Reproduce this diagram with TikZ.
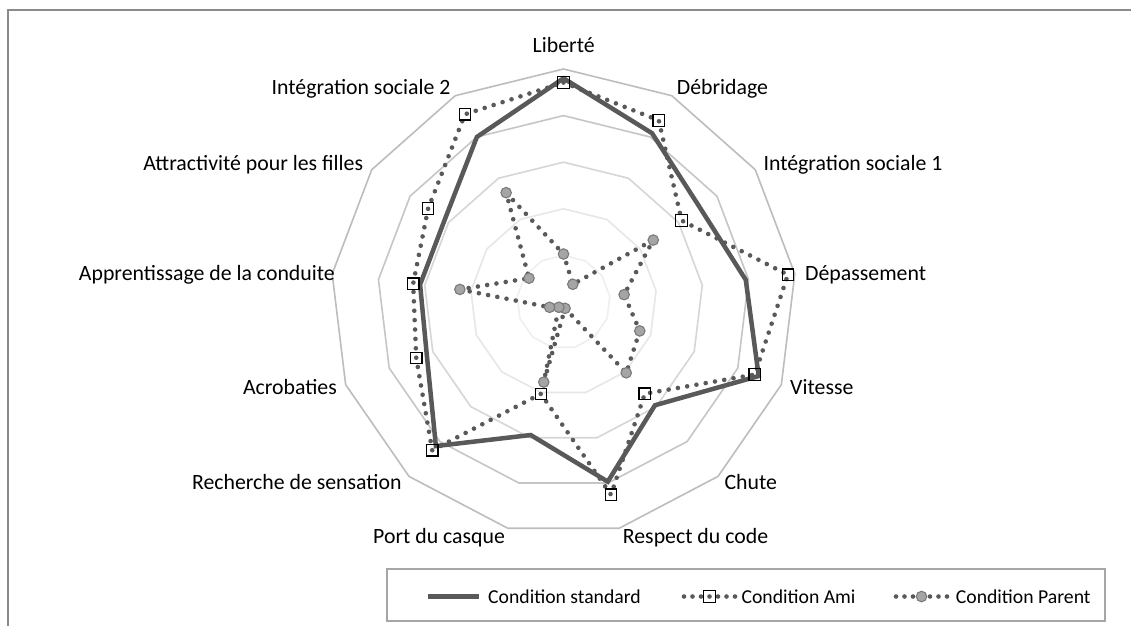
\documentclass[tikz,border=0pt]{standalone}
\usepackage{fontspec}
\setmainfont{Carlito}
\definecolor{seriesgray}{HTML}{595959}
\definecolor{markfill}{HTML}{A5A5A5}
\definecolor{markline}{HTML}{7A7A7A}
\definecolor{framegray}{HTML}{8A8A8A}
\definecolor{legendgray}{HTML}{A6A6A6}
\definecolor{ringA}{HTML}{BDBDBD}
\definecolor{ringB}{HTML}{C6C6C6}
\definecolor{ringC}{HTML}{D6D6D6}
\definecolor{ringD}{HTML}{E6E6EC}
\definecolor{ringE}{HTML}{EEEEF3}
\tikzset{
  axislabel/.style={inner sep=0pt, font=\fontsize{21.8}{24}\selectfont, text=black},
  legendtext/.style={inner sep=0pt, font=\fontsize{19.7}{22}\selectfont, text=black, anchor=base west},
  stdline/.style={draw=seriesgray, line width=4.5pt, line join=miter},
  dotline/.style={draw=seriesgray, line width=4.6pt, line cap=round, dash pattern=on 0pt off 9.4pt},
  amimark/.style={draw=black, line width=1.2pt, rectangle, minimum size=11.5pt, inner sep=0pt},
  parentmark/.style={draw=markline, fill=markfill, line width=1.1pt, circle, minimum size=10.5pt, inner sep=0pt},
  gridring/.style={line width=1.6pt},
  legendbox/.style={draw=legendgray, line width=1.3pt, rectangle, inner sep=0pt}
}
\begin{document}
\begin{tikzpicture}[x=1pt,y=-1pt]
\useasboundingbox (0,0) rectangle (1131,625);
\fill[white] (0,0) rectangle (1131,625);

% chart area frame (only top and left edges fall inside the page)
\draw[framegray, line width=2pt] (8,640) -- (8,10) -- (1145,10);

% radar chart, centred on the hub, y pointing up, 46.6pt per scale unit
\begin{scope}[shift={(563.5,302)}, y=1pt]
  \def\unit{46.6}
  % concentric 13-sided grid rings
  \foreach \i/\c in {1/ringE,2/ringD,3/ringC,4/ringB,5/ringA}{
    \draw[gridring, draw=\c] (90:\i*\unit)
      \foreach \k in {1,...,12}{ -- ({90-\k*360/13}:\i*\unit) } -- cycle;
  }
  % series values, from Liberte clockwise
  \foreach \v [count=\k from 0] in {4.80,4.09,3.56,3.94,4.48,2.96,3.97,2.94,4.13,3.14,3.10,3.10,4.00}
    \coordinate (s\k) at ({90-\k*360/13}:\v*\unit);
  \foreach \v [count=\k from 0] in {4.71,4.40,3.08,4.85,4.39,2.63,4.26,2.03,4.25,3.38,3.25,3.53,4.55}
    \coordinate (a\k) at ({90-\k*360/13}:\v*\unit);
  \foreach \v [count=\k from 0] in {1.03,0.43,2.34,1.31,1.75,2.03,0.14,1.77,0.15,0.32,2.24,0.90,2.65}
    \coordinate (p\k) at ({90-\k*360/13}:\v*\unit);

  % Condition standard
  \draw[stdline] (s0) \foreach \k in {1,...,12}{ -- (s\k) } -- cycle;
  % Condition Ami
  \draw[dotline] (a0) \foreach \k in {1,...,12}{ -- (a\k) } -- cycle;
  \foreach \k in {0,...,12} \node[amimark] (am\k) at (a\k) {};
  % Condition Parent
  \draw[dotline] (p0) \foreach \k in {1,...,12}{ -- (p\k) } -- cycle;
  \foreach \k in {0,...,12} \node[parentmark] (pm\k) at (p\k) {};
\end{scope}

% axis labels
\node[axislabel, anchor=base] (lLiberte) at (563.7,52.7) {Liberté};
\node[axislabel, anchor=base west] (lDebridage) at (676.7,94) {Débridage};
\node[axislabel, anchor=base west] (lIntA) at (763.3,170.7) {Intégration sociale 1};
\node[axislabel, anchor=base west] (lDepassement) at (805,280.7) {Dépassement};
\node[axislabel, anchor=base west] (lVitesse) at (790,394) {Vitesse};
\node[axislabel, anchor=base west] (lChute) at (724.3,489.3) {Chute};
\node[axislabel, anchor=base west] (lRespect) at (622.7,543.3) {Respect du code};
\node[axislabel, anchor=base west] (lCasque) at (373,543.3) {Port du casque};
\node[axislabel, anchor=base east] (lRecherche) at (401.7,489.3) {Recherche de sensation};
\node[axislabel, anchor=base east] (lAcro) at (337,394) {Acrobaties};
\node[axislabel, anchor=base east] (lApprent) at (335,280.7) {Apprentissage de la conduite};
\node[axislabel, anchor=base east] (lAttract) at (363.3,170.7) {Attractivité pour les filles};
\node[axislabel, anchor=base east] (lIntB) at (450.7,94) {Intégration sociale 2};

% legend
\node[legendbox, minimum width=718pt, minimum height=52pt] (legend) at (746,595) {};
\coordinate (lgSa) at (428,596.5);
\coordinate (lgSb) at (478.5,596.5);
\draw[stdline, line cap=butt] (lgSa) -- (lgSb);
\node[legendtext] (lgStd) at (488,603) {Condition standard};

\coordinate (lgAa) at (684,596.5);
\coordinate (lgAb) at (735,596.5);
\draw[dotline, dash pattern=on 0pt off 8.5pt] (lgAa) -- (lgAb);
\node[amimark] (lgAm) at (709.5,596.5) {};
\node[legendtext] (lgAmi) at (741.4,603) {Condition Ami};

\coordinate (lgPa) at (896,596.5);
\coordinate (lgPb) at (947,596.5);
\draw[dotline, dash pattern=on 0pt off 8.5pt] (lgPa) -- (lgPb);
\node[parentmark] (lgPm) at (921.5,596.5) {};
\node[legendtext] (lgPar) at (955.7,603) {Condition Parent};
\end{tikzpicture}
\end{document}
